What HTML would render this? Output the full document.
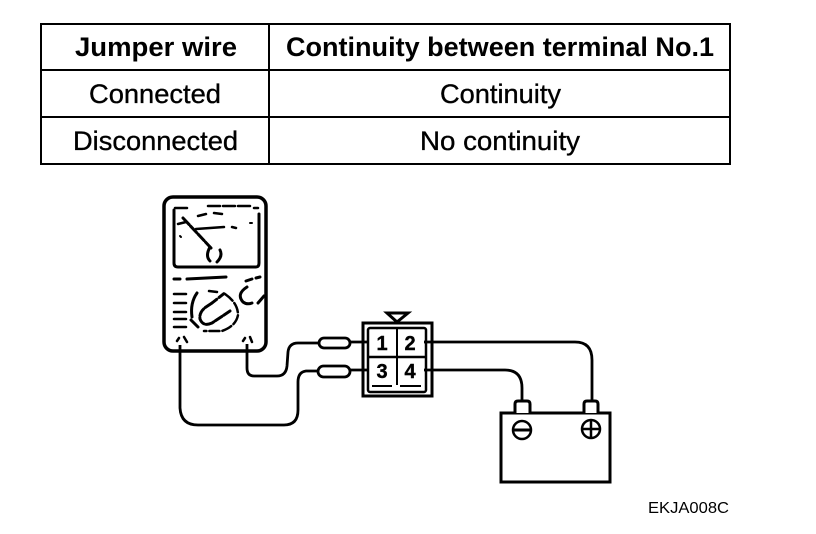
<!DOCTYPE html>
<html>
<head>
<meta charset="utf-8">
<style>
html,body{margin:0;padding:0;background:#fff;width:816px;height:534px;overflow:hidden}
svg{display:block}
text{font-family:"Liberation Sans",Arial,sans-serif;fill:#000}
</style>
</head>
<body>
<svg width="816" height="534" viewBox="0 0 816 534" xmlns="http://www.w3.org/2000/svg">
<!-- table -->
<g fill="none" stroke="#000" stroke-width="2">
<rect x="41" y="24" width="689" height="140"/>
<line x1="41" y1="70" x2="730" y2="70"/>
<line x1="41" y1="117" x2="730" y2="117"/>
<line x1="269" y1="24" x2="269" y2="164"/>
</g>
<text x="75" y="56" font-size="27" font-weight="bold" textLength="162" lengthAdjust="spacingAndGlyphs">Jumper wire</text>
<text x="286" y="56" font-size="27" font-weight="bold" textLength="428" lengthAdjust="spacingAndGlyphs">Continuity between terminal No.1</text>
<g stroke="#000" stroke-width="0.35">
<text x="89" y="103" font-size="27" textLength="132" lengthAdjust="spacingAndGlyphs">Connected</text>
<text x="440" y="103" font-size="27" textLength="121" lengthAdjust="spacingAndGlyphs">Continuity</text>
<text x="73" y="150" font-size="27" textLength="165" lengthAdjust="spacingAndGlyphs">Disconnected</text>
<text x="420" y="150" font-size="27" textLength="160" lengthAdjust="spacingAndGlyphs">No continuity</text>
</g>

<!-- meter -->
<g fill="none" stroke="#000" stroke-linecap="round">
<rect x="164" y="197" width="102" height="154" rx="9" stroke-width="3.5"/>
<path d="M174 210V263Q174 267 178 267H256Q259 267 259 263V214" stroke-width="3"/>
<path d="M175 208H190M208 206H250M254 208H258" stroke-width="2.5" stroke-dasharray="12 3"/>
<path d="M183 218L211 248" stroke-width="3" stroke-dasharray="9 2"/>
<path d="M178 224L186 222M198 216L206 214M214 213L222 214M196 229L224 227M232 227L236 228" stroke-width="2.5"/>
<path d="M181 237L180 236M250 223L252 223" stroke-width="2"/>
<path d="M210 247Q205 256 210 261M220 250Q223 256 217 262" stroke-width="3"/>
<path d="M174 279H180M187 279L226 277" stroke-width="3"/>
<path d="M174 294H186M174 303H186M174 312H186M174 319H186M174 327H186" stroke-width="2.5"/>
<path d="M197 293Q190 303 192 317M191 320L198 327" stroke-width="3"/>
<path d="M209 291L217 292M225 294Q238 303 238 315Q236 326 222 331L204 331" stroke-width="2.5" stroke-dasharray="10 3"/>
<path d="M212 303L206 307Q199 312 200 319Q203 327 212 323L230 311" stroke-width="3" stroke-dasharray="8 2"/>
<path d="M212 303L226 292" stroke-width="3" stroke-dasharray="6 3"/>
<path d="M247 287Q236 294 243 302Q247 305 252 303M258 303L264 296M246 281L252 279M256 278L260 277" stroke-width="3"/>
<path d="M177 341L179 338M184 337L187 342M243 341L245 338M250 337L252 342" stroke-width="2.5"/>
</g>

<!-- wires -->
<g fill="none" stroke="#000" stroke-width="2.8">
<path d="M318 343H298Q289 343 288 352L287 366Q286 376 277 376H254Q247 376 247 368V344"/>
<path d="M317 371H306Q298 372 298 382V410Q298 425 284 425H198Q181 425 180 408V345"/>
<path d="M350 342H368M350 370H368"/>
<path d="M424 342H575Q592 342 592 360V400"/>
<path d="M424 370H505Q522 370 522 388V401"/>
</g>

<!-- plugs -->
<g fill="#fff" stroke="#000" stroke-width="2.8">
<rect x="319" y="338" width="31" height="10" rx="5"/>
<rect x="318" y="366" width="32" height="11" rx="5.5"/>
</g>

<!-- connector -->
<g fill="none" stroke="#000">
<path d="M387 313H408L397 322Z" stroke-width="3"/>
<rect x="363" y="323" width="69" height="73" stroke-width="3"/>
<rect x="368" y="328" width="58" height="64" rx="2" stroke-width="2.5"/>
<line x1="397" y1="329" x2="397" y2="385" stroke-width="2"/>
<line x1="368" y1="357" x2="426" y2="357" stroke-width="2.5"/>
<path d="M372 386H392M400 386H421" stroke-width="2"/>
</g>
<g font-size="20" font-weight="bold" text-anchor="middle" stroke="#000" stroke-width="0.4">
<text x="382" y="350">1</text>
<text x="410" y="350">2</text>
<text x="382" y="378">3</text>
<text x="410" y="378">4</text>
</g>

<!-- battery -->
<g fill="none" stroke="#000">
<rect x="501" y="413" width="109" height="69" stroke-width="3"/>
<path d="M515 413V404Q515 401 518 401H527Q530 401 530 404V413" stroke-width="3" fill="#fff"/>
<path d="M584 413V404Q584 401 587 401H595Q598 401 598 404V413" stroke-width="3" fill="#fff"/>
<circle cx="522" cy="430" r="9" stroke-width="2.5"/>
<line x1="513" y1="430" x2="531" y2="430" stroke-width="3"/>
<circle cx="591" cy="429" r="9" stroke-width="2.5"/>
<path d="M582 429H600M591 420V438" stroke-width="2.5"/>
</g>

<text x="648" y="513" font-size="16" textLength="81" lengthAdjust="spacingAndGlyphs">EKJA008C</text>
</svg>
</body>
</html>
